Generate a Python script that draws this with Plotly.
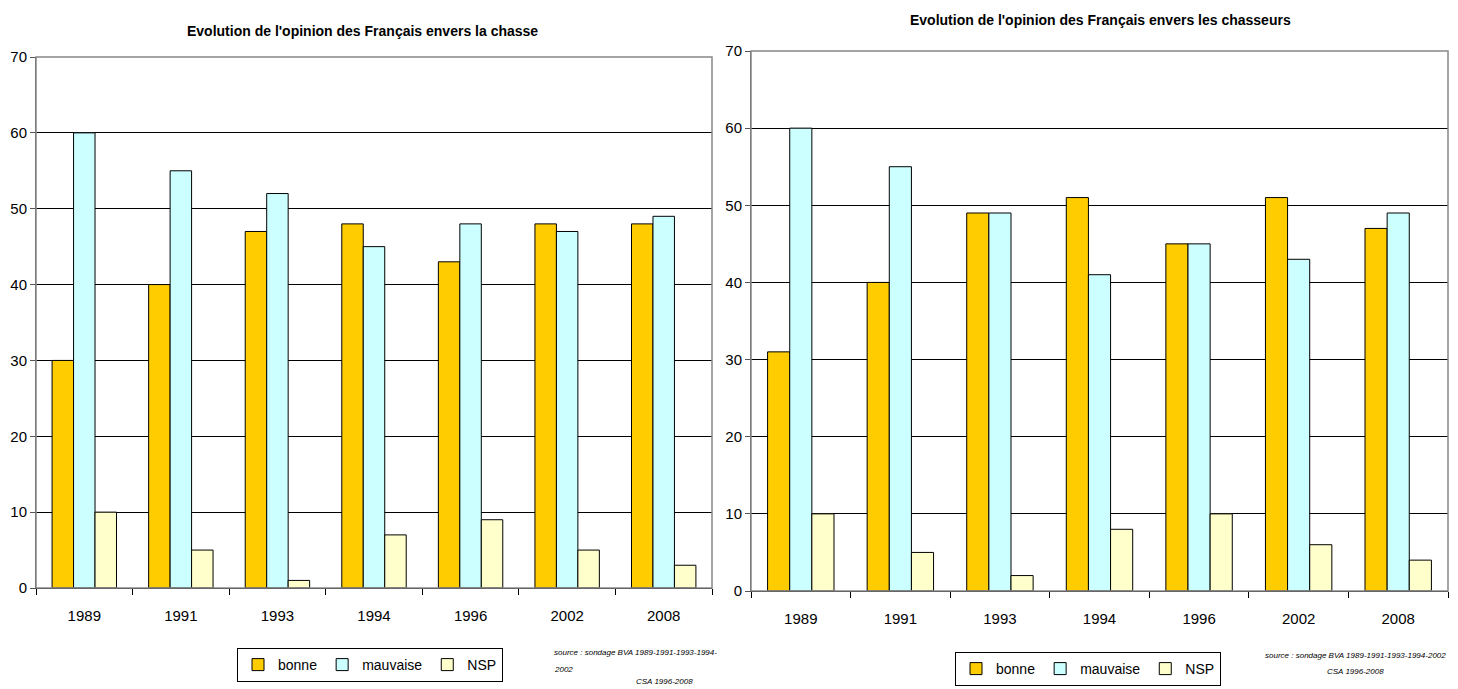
import plotly.graph_objects as go

years = ["1989", "1991", "1993", "1994", "1996", "2002", "2008"]
series_names = ["bonne", "mauvaise", "NSP"]

# Left chart: opinion envers la chasse
chasse_bonne = [30, 40, 47, 48, 43, 48, 48]
chasse_mauvaise = [60, 55, 52, 45, 48, 47, 49]
chasse_nsp = [10, 5, 1, 7, 9, 5, 3]

# Right chart: opinion envers les chasseurs
chasseurs_bonne = [31, 40, 49, 51, 45, 51, 47]
chasseurs_mauvaise = [60, 55, 49, 41, 45, 43, 49]
chasseurs_nsp = [10, 5, 2, 8, 10, 6, 4]

colors = ["#FFCC00", "#CCFFFF", "#FFFFCC"]
FONT = "Liberation Sans Narrow, Arial Narrow, Liberation Sans, Arial, sans-serif"

W, H = 1458, 689
fig = go.Figure()

left_vals = [chasse_bonne, chasse_mauvaise, chasse_nsp]
right_vals = [chasseurs_bonne, chasseurs_mauvaise, chasseurs_nsp]

for name, vals, col in zip(series_names, left_vals, colors):
    fig.add_trace(go.Bar(x=years, y=vals, name=name, marker=dict(color=col, line=dict(color="#000000", width=1)),
                         xaxis="x", yaxis="y", legend="legend"))
for name, vals, col in zip(series_names, right_vals, colors):
    fig.add_trace(go.Bar(x=years, y=vals, name=name, marker=dict(color=col, line=dict(color="#000000", width=1)),
                         xaxis="x2", yaxis="y2", legend="legend2"))

def px_x(v):
    return v / W

def px_y(v):
    return 1 - v / H

xcommon = dict(type="category", showline=True, linecolor="#000000", linewidth=1, ticks="outside",
               tickson="boundaries", ticklen=6, tickcolor="#000000", showgrid=False,
               ticklabelstandoff=14, automargin=False,
               tickfont=dict(family=FONT, size=15, color="#000000"), fixedrange=True)
ycommon = dict(range=[0, 70], dtick=10, showline=True, linecolor="#555555", linewidth=1, ticks="outside",
               ticklen=5, tickcolor="#555555", showgrid=True, gridcolor="#000000", gridwidth=1,
               zeroline=False, automargin=False,
               tickfont=dict(family=FONT, size=15, color="#000000"), fixedrange=True)

legend_common = dict(orientation="h", yanchor="middle", xanchor="center",
                     bordercolor="#000000", borderwidth=1, bgcolor="white",
                     font=dict(family=FONT, size=14, color="#000000"), itemwidth=30,
                     tracegroupgap=0)

fig.update_layout(
    width=W, height=H, margin=dict(l=0, r=0, t=0, b=0, autoexpand=False),
    paper_bgcolor="white", plot_bgcolor="white",
    barmode="group", bargap=0.333, bargroupgap=0,
    font=dict(family=FONT, color="#000000"),
    xaxis=dict(domain=[px_x(36), px_x(712)], anchor="y", **xcommon),
    yaxis=dict(domain=[px_y(588), px_y(57)], anchor="x", **ycommon),
    xaxis2=dict(domain=[px_x(751), px_x(1448)], anchor="y2", **xcommon),
    yaxis2=dict(domain=[px_y(591), px_y(51)], anchor="x2", **ycommon),
    legend=dict(x=px_x(370), y=px_y(665), **legend_common),
    legend2=dict(x=px_x(1088), y=px_y(669), **legend_common),
    showlegend=True,
)

# plot area borders (gray top/right)
for xr, yr in (("x domain", "y domain"), ("x2 domain", "y2 domain")):
    fig.add_shape(type="rect", xref=xr, yref=yr, x0=0, x1=1, y0=0, y1=1,
                  line=dict(color="#888888", width=1.5), fillcolor="rgba(0,0,0,0)", layer="above")

annotations = [
    dict(text="<b>Evolution de l'opinion des Français envers la chasse</b>", x=px_x(362), y=px_y(31),
         font=dict(size=14)),
    dict(text="<b>Evolution de l'opinion des Français envers les chasseurs</b>", x=px_x(1100), y=px_y(20),
         font=dict(size=14)),
    dict(text="<i>source : sondage BVA 1989-1991-1993-1994-</i>", x=px_x(552), y=px_y(652),
         xanchor="left", font=dict(size=8)),
    dict(text="<i>2002</i>", x=px_x(552), y=px_y(669), xanchor="left", font=dict(size=8)),
    dict(text="<i>CSA 1996-2008</i>", x=px_x(664), y=px_y(681), font=dict(size=8)),
    dict(text="<i>source : sondage BVA 1989-1991-1993-1994-2002</i>", x=px_x(1355), y=px_y(655),
         font=dict(size=8)),
    dict(text="<i>CSA 1996-2008</i>", x=px_x(1355), y=px_y(671), font=dict(size=8)),
]
for a in annotations:
    a.setdefault("xanchor", "center")
    a["font"] = dict(family=FONT, color="#000000", **a["font"])
    fig.add_annotation(xref="paper", yref="paper", yanchor="middle", showarrow=False, **a)

fig.write_html("out.html")
